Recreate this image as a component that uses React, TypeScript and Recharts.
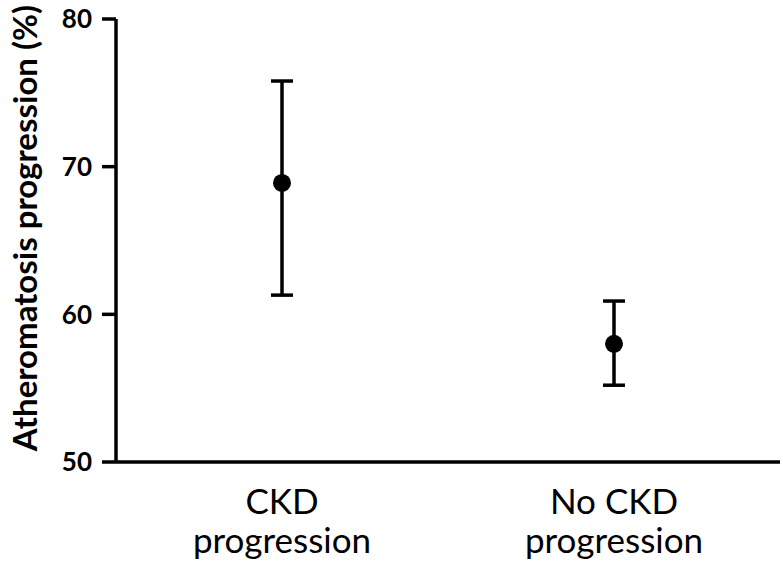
import React from "react";
import { ComposedChart, Line, XAxis, YAxis, ErrorBar } from "recharts";

// group means with the ends of their error bars (%)
const groups = ["CKD progression", "No CKD progression"];
const groupLines = [
  ["CKD", "progression"],
  ["No CKD", "progression"],
];
const means = [68.9, 58.0];
const upper = [75.8, 60.9];
const lower = [61.3, 55.2];
const yTicks = [50, 60, 70, 80];

const data = groups.map((g, i) => ({
  group: g,
  mean: means[i],
  err: [means[i] - lower[i], upper[i] - means[i]],
}));

const XTick = (props: any) => {
  const { x, y, payload } = props;
  const idx = groups.indexOf(payload.value);
  const lines = groupLines[idx] || [payload.value];
  return (
    <text x={x} y={y} textAnchor="middle" fill="#000" fontSize={35} fontFamily="Lato">
      {lines.map((l, i) => (
        <tspan key={i} x={x} dy={i === 0 ? 52 : 39}>
          {l}
        </tspan>
      ))}
    </text>
  );
};

const YLabel = () => (
  <text
    x={0}
    y={0}
    transform="translate(37, 228) rotate(-90)"
    textAnchor="middle"
    fill="#000"
    fontSize={33}
    fontWeight="bold"
    fontFamily="Lato"
  >
    Atheromatosis progression (%)
  </text>
);

const Dot = (props: any) => {
  const { cx, cy } = props;
  if (cx == null || cy == null) return null;
  return <circle cx={cx} cy={cy} r={9} fill="#000" />;
};

export default function App() {
  return (
    <div style={{ position: "absolute", left: 0, top: 0, background: "#fff" }}>
      <ComposedChart
        width={783}
        height={569}
        data={data}
        margin={{ top: 19, right: 3, left: 0, bottom: 0 }}
        style={{ fontFamily: "Lato" }}
      >
        <XAxis
          dataKey="group"
          type="category"
          height={107}
          padding={{ left: 166, right: 166 }}
          tickLine={false}
          axisLine={{ stroke: "#000", strokeWidth: 3.5 }}
          tick={<XTick />}
          tickSize={0}
          tickMargin={0}
          interval={0}
        />
        <YAxis
          type="number"
          domain={[50, 80]}
          ticks={yTicks}
          width={116}
          tickSize={14}
          tickMargin={10}
          tickLine={{ stroke: "#000", strokeWidth: 3.5 }}
          axisLine={{ stroke: "#000", strokeWidth: 3.5 }}
          tick={{ fill: "#000", fontSize: 26, fontWeight: "bold", fontFamily: "Lato" }}
          label={<YLabel />}
        />
        <Line
          dataKey="mean"
          stroke="none"
          dot={<Dot />}
          activeDot={false}
          isAnimationActive={false}
        >
          <ErrorBar
            dataKey="err"
            direction="y"
            width={11}
            stroke="#000"
            strokeWidth={3.5}
            isAnimationActive={false}
          />
        </Line>
      </ComposedChart>
    </div>
  );
}
